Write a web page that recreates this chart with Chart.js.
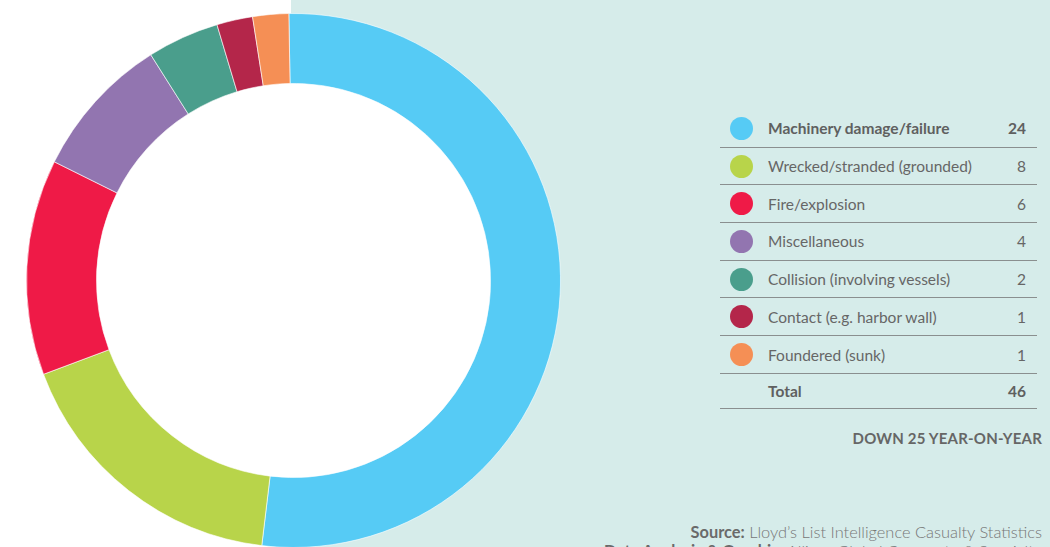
<!DOCTYPE html>
<html>
<head>
<meta charset="utf-8">
<script src="https://cdn.jsdelivr.net/npm/chart.js@4"></script>
<style>
  html, body { margin: 0; padding: 0; }
  body { width: 1050px; height: 547px; position: relative; overflow: hidden; background: #fff; font-family: Lato, "Open Sans", sans-serif; }
  #panel { position: absolute; left: 291px; top: 0; width: 759px; height: 547px; background: #d6ecea; }
  #wrap { position: absolute; left: 26px; top: 13px; width: 535px; height: 535px; }
  #legend { position: absolute; left: 720px; top: 0; width: 317px; color: #666; font-size: 15.5px; }
  .row { position: absolute; left: 0; width: 317px; box-sizing: border-box; border-bottom: 1.5px solid #8a8f8f; display: flex; align-items: center; }
  .row .dot { width: 48px; flex: none; }
  .row .dot span { display: block; width: 23px; height: 23px; border-radius: 50%; margin-left: 10px; }
  .row .name { flex: 1; }
  .row .num { padding-right: 11px; text-align: right; }
  .row.bold { font-weight: bold; color: #5f6060; }
  #down { position: absolute; right: 8px; top: 429px; font-size: 15px; font-weight: bold; color: #666; letter-spacing: 0.2px; }
  #src { position: absolute; right: 8px; top: 522px; font-size: 16.4px; color: #777; font-weight: 300; line-height: 19px; text-align: right; white-space: nowrap; }
  #src b { font-weight: bold; color: #6a6a6a; }
</style>
</head>
<body>
<div id="panel"></div>
<div id="wrap"><canvas id="donut" width="535" height="535"></canvas></div>
<div id="legend"></div>
<div id="down">DOWN 25 YEAR-ON-YEAR</div>
<div id="src"><b>Source:</b> Lloyd’s List Intelligence Casualty Statistics<br><b>Data Analysis &amp; Graphic:</b> Allianz Global Corporate &amp; Specialty</div>
<script>
// categories and counts
const categories = [
    'Machinery damage/failure',
    'Wrecked/stranded (grounded)',
    'Fire/explosion',
    'Miscellaneous',
    'Collision (involving vessels)',
    'Contact (e.g. harbor wall)',
    'Foundered (sunk)'
];
const counts = [24, 8, 6, 4, 2, 1, 1];
const colors = ['#56cbf5', '#b8d44a', '#ef1a47', '#9275b0', '#4a9e8c', '#b4264a', '#f58f55'];
const totalLabel = 'Total';

// legend rows
const legend = document.getElementById('legend');
const rowTop = 110, rowH = 37.7;
function addRow(i, color, name, value, bold, h) {
    const row = document.createElement('div');
    row.className = 'row' + (bold ? ' bold' : '');
    row.style.top = (rowTop + i * rowH) + 'px';
    row.style.height = h + 'px';
    row.innerHTML = `<div class="dot">${color ? `<span style="background:${color}"></span>` : ''}</div><div class="name">${name}</div><div class="num">${value}</div>`;
    legend.appendChild(row);
}
categories.forEach((name, i) => addRow(i, colors[i], name, counts[i], i === 0, rowH));
addRow(categories.length, null, totalLabel, counts.reduce((a, b) => a + b, 0), true, 35);

// white hole in the middle of the ring
const holeFill = {
    id: 'holeFill',
    beforeDatasetsDraw(chart) {
        const arc = chart.getDatasetMeta(0).data[0];
        if (!arc) return;
        const ctx = chart.ctx;
        ctx.save();
        ctx.beginPath();
        ctx.arc(arc.x, arc.y, arc.innerRadius + 1, 0, Math.PI * 2);
        ctx.fillStyle = '#ffffff';
        ctx.fill();
        ctx.restore();
    }
};

new Chart(document.getElementById('donut'), {
    type: 'doughnut',
    data: {
        labels: categories,
        datasets: [{
            data: counts,
            backgroundColor: colors,
            borderColor: 'rgba(255,255,255,0.6)',
            borderWidth: 1,
            hoverBorderWidth: 1,
            hoverOffset: 0
        }]
    },
    options: {
        responsive: false,
        animation: false,
        events: [],
        cutout: '73.8%',
        rotation: -1,
        layout: { padding: 0 },
        plugins: {
            legend: { display: false },
            tooltip: { enabled: false }
        }
    },
    plugins: [holeFill]
});
</script>
</body>
</html>
